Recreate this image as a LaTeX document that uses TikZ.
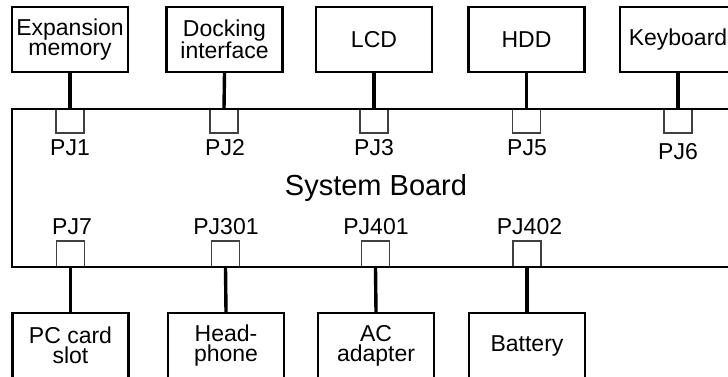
\documentclass[tikz,border=0pt]{standalone}
\usepackage{fontspec}
\setmainfont{Liberation Sans}
\begin{document}
\begin{tikzpicture}[x=1pt,y=-1pt,
  devbox/.style={draw=black,line width=2.4pt,minimum width=116pt,minimum height=65pt,inner sep=0pt,
    align=center,font=\fontsize{23}{20}\selectfont},
  board/.style={draw=black,line width=2.8pt,minimum width=728pt,minimum height=158pt,inner sep=0pt,
    font=\fontsize{29}{32}\selectfont},
  conn/.style={draw=black!75,line width=1.2pt,minimum width=28pt,inner sep=0pt},
  topconn/.style={conn,minimum height=24pt},
  botconn/.style={conn,minimum height=26pt},
  pjlabel/.style={anchor=base,inner sep=0pt,font=\fontsize{23}{25}\selectfont},
  wire/.style={line width=3.4pt}]
\useasboundingbox (0,0) rectangle (728,377);
\clip (0,0) rectangle (728,377);
% connector sockets
\node[topconn] (s1) at (70,121) {};
\node[topconn] (s2) at (224,121) {};
\node[topconn] (s3) at (374,121) {};
\node[topconn] (s5) at (526.5,121) {};
\node[topconn] (s6) at (678,121) {};
\node[botconn] (s7) at (70.5,254) {};
\node[botconn] (s301) at (225.5,254) {};
\node[botconn] (s401) at (375.5,254) {};
\node[botconn] (s402) at (527,254) {};
% board
\node[board] (sb) at (376,188) {System Board};
% labels
\node[pjlabel] (l1) at (70,155.5) {PJ1};
\node[pjlabel] (l2) at (225,155.5) {PJ2};
\node[pjlabel] (l3) at (374,156) {PJ3};
\node[pjlabel] (l5) at (527,156) {PJ5};
\node[pjlabel] (l6) at (678,159) {PJ6};
\node[pjlabel] (l7) at (72,234.5) {PJ7};
\node[pjlabel] (l301) at (226,234.5) {PJ301};
\node[pjlabel] (l401) at (376,234.5) {PJ401};
\node[pjlabel] (l402) at (529.5,234.5) {PJ402};
% top devices
\node[devbox] (exp) at (70,39.5) {Expansion\\memory};
\node[devbox] (dock) at (224.5,39.5) {Docking\\interface};
\node[devbox] (lcd) at (374,39.5) {LCD};
\node[devbox] (hdd) at (526.5,39.5) {HDD};
\node[devbox] (kbd) at (678,39.5) {Keyboard};
% bottom devices
\node[devbox] (pcc) at (70.5,345.5) {PC card\\slot};
\node[devbox] (hp) at (226,345.5) {Head-\\phone};
\node[devbox] (ac) at (376,345.5) {AC\\adapter};
\node[devbox] (bat) at (527,345.5) {Battery};
% wires
\draw[wire] (exp.south) -- (s1.north);
\draw[wire] (dock.south) -- (s2.north);
\draw[wire] (lcd.south) -- (s3.north);
\draw[wire] (hdd.south) -- (s5.north);
\draw[wire] (kbd.south) -- (s6.north);
\draw[wire] (s7.south) -- (pcc.north);
\draw[wire] (s301.south) -- (hp.north);
\draw[wire] (s401.south) -- (ac.north);
\draw[wire] (s402.south) -- (bat.north);
\end{tikzpicture}
\end{document}
